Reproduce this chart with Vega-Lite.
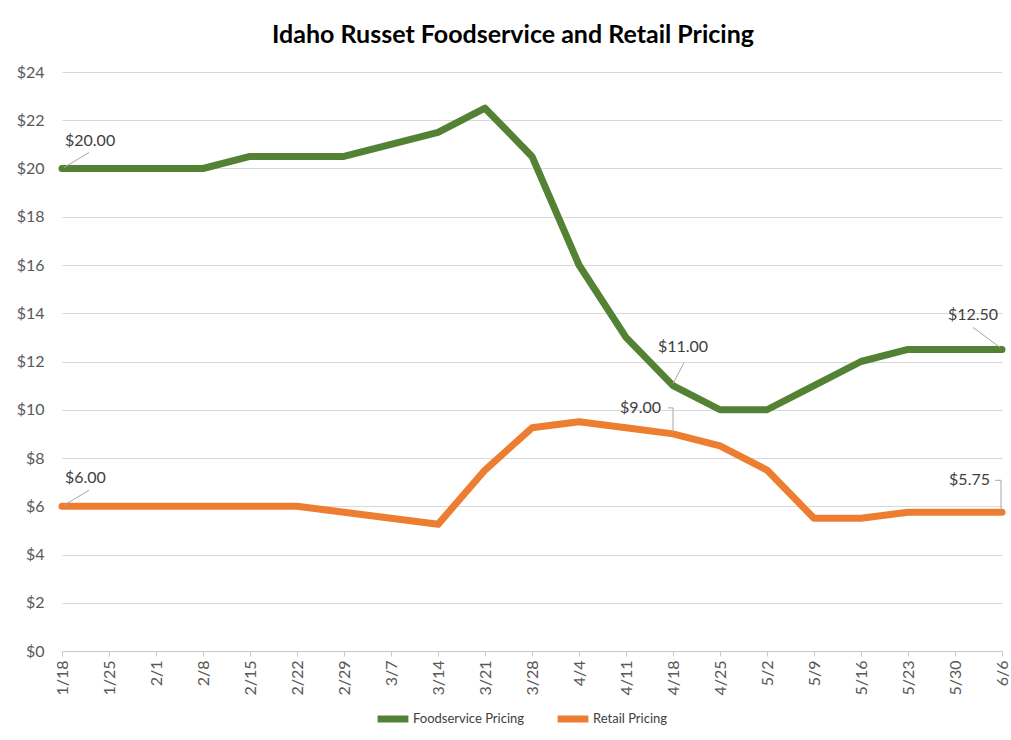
{
  "$schema": "https://vega.github.io/schema/vega-lite/v6.json",
  "width": 940,
  "height": 579,
  "autosize": {"type": "none"},
  "padding": {"left": 62, "top": 72, "right": 9, "bottom": 89},
  "background": "white",
  "title": {
    "text": "Idaho Russet Foodservice and Retail Pricing",
    "fontSize": 25,
    "fontWeight": "bold",
    "font": "Lato",
    "color": "#000000",
    "anchor": "middle",
    "dx": -19,
    "offset": 16
  },
  "datasets": {
    "prices": [
      {"date": "1/18", "series": "Foodservice Pricing", "price": 20},
      {"date": "1/25", "series": "Foodservice Pricing", "price": 20},
      {"date": "2/1", "series": "Foodservice Pricing", "price": 20},
      {"date": "2/8", "series": "Foodservice Pricing", "price": 20},
      {"date": "2/15", "series": "Foodservice Pricing", "price": 20.5},
      {"date": "2/22", "series": "Foodservice Pricing", "price": 20.5},
      {"date": "2/29", "series": "Foodservice Pricing", "price": 20.5},
      {"date": "3/7", "series": "Foodservice Pricing", "price": 21},
      {"date": "3/14", "series": "Foodservice Pricing", "price": 21.5},
      {"date": "3/21", "series": "Foodservice Pricing", "price": 22.5},
      {"date": "3/28", "series": "Foodservice Pricing", "price": 20.5},
      {"date": "4/4", "series": "Foodservice Pricing", "price": 16},
      {"date": "4/11", "series": "Foodservice Pricing", "price": 13},
      {"date": "4/18", "series": "Foodservice Pricing", "price": 11},
      {"date": "4/25", "series": "Foodservice Pricing", "price": 10},
      {"date": "5/2", "series": "Foodservice Pricing", "price": 10},
      {"date": "5/9", "series": "Foodservice Pricing", "price": 11},
      {"date": "5/16", "series": "Foodservice Pricing", "price": 12},
      {"date": "5/23", "series": "Foodservice Pricing", "price": 12.5},
      {"date": "5/30", "series": "Foodservice Pricing", "price": 12.5},
      {"date": "6/6", "series": "Foodservice Pricing", "price": 12.5},
      {"date": "1/18", "series": "Retail Pricing", "price": 6},
      {"date": "1/25", "series": "Retail Pricing", "price": 6},
      {"date": "2/1", "series": "Retail Pricing", "price": 6},
      {"date": "2/8", "series": "Retail Pricing", "price": 6},
      {"date": "2/15", "series": "Retail Pricing", "price": 6},
      {"date": "2/22", "series": "Retail Pricing", "price": 6},
      {"date": "2/29", "series": "Retail Pricing", "price": 5.75},
      {"date": "3/7", "series": "Retail Pricing", "price": 5.5},
      {"date": "3/14", "series": "Retail Pricing", "price": 5.25},
      {"date": "3/21", "series": "Retail Pricing", "price": 7.5},
      {"date": "3/28", "series": "Retail Pricing", "price": 9.25},
      {"date": "4/4", "series": "Retail Pricing", "price": 9.5},
      {"date": "4/11", "series": "Retail Pricing", "price": 9.25},
      {"date": "4/18", "series": "Retail Pricing", "price": 9},
      {"date": "4/25", "series": "Retail Pricing", "price": 8.5},
      {"date": "5/2", "series": "Retail Pricing", "price": 7.5},
      {"date": "5/9", "series": "Retail Pricing", "price": 5.5},
      {"date": "5/16", "series": "Retail Pricing", "price": 5.5},
      {"date": "5/23", "series": "Retail Pricing", "price": 5.75},
      {"date": "5/30", "series": "Retail Pricing", "price": 5.75},
      {"date": "6/6", "series": "Retail Pricing", "price": 5.75}
    ]
  },
  "data": {"name": "prices"},
  "encoding": {
    "x": {
      "field": "date",
      "type": "ordinal",
      "sort": null,
      "scale": {"type": "point", "padding": 0},
      "axis": {
        "title": null,
        "labelAngle": 270,
        "labelFontSize": 16,
        "labelColor": "#595959",
        "labelFont": "Lato",
        "labelPadding": 4,
        "domainColor": "#c8c8c8",
        "tickColor": "#c8c8c8",
        "tickSize": 5,
        "grid": false
      }
    },
    "y": {
      "field": "price",
      "type": "quantitative",
      "scale": {"domain": [0, 24], "nice": false, "zero": true},
      "axis": {
        "title": null,
        "values": [0, 2, 4, 6, 8, 10, 12, 14, 16, 18, 20, 22, 24],
        "format": "$,.0f",
        "labelFontSize": 16,
        "labelColor": "#595959",
        "labelFont": "Lato",
        "labelPadding": 18,
        "domain": false,
        "ticks": false,
        "grid": true,
        "gridColor": "#d9d9d9",
        "gridWidth": 1
      }
    }
  },
  "layer": [
    {
      "mark": {"type": "line", "strokeWidth": 7, "strokeJoin": "round", "strokeCap": "round"},
      "encoding": {
        "color": {
          "field": "series",
          "type": "nominal",
          "scale": {"domain": ["Foodservice Pricing", "Retail Pricing"], "range": ["#548235", "#ED7D31"]},
          "legend": {
            "title": null,
            "orient": "none",
            "legendX": 312,
            "legendY": 628,
            "direction": "horizontal",
            "symbolType": "stroke",
            "symbolStrokeWidth": 7,
            "symbolSize": 950,
            "labelFontSize": 13,
            "labelColor": "#404040",
            "labelFont": "Lato",
            "labelOffset": 1,
            "columnPadding": 18
          }
        }
      }
    },
    {
      "transform": [{"filter": "datum.date == '1/18'"}],
      "mark": {"type": "rule", "color": "#a6a6a6", "strokeWidth": 1, "xOffset": 2, "yOffset": -1, "x2Offset": 27, "y2Offset": -16},
      "encoding": {"x2": {"field": "date"}, "y2": {"field": "price"}}
    },
    {
      "transform": [{"filter": "datum.date == '1/18'"}],
      "mark": {"type": "text", "align": "left", "baseline": "middle", "dx": 3, "dy": -28, "fontSize": 16, "color": "#404040", "font": "Lato"},
      "encoding": {"text": {"field": "price", "type": "quantitative", "format": "$.2f"}}
    },
    {
      "transform": [{"filter": "datum.date == '4/18' && datum.series == 'Foodservice Pricing'"}],
      "mark": {"type": "rule", "color": "#a6a6a6", "strokeWidth": 1, "yOffset": -2, "x2Offset": 11, "y2Offset": -23},
      "encoding": {"x2": {"field": "date"}, "y2": {"field": "price"}}
    },
    {
      "transform": [{"filter": "datum.date == '4/18' && datum.series == 'Foodservice Pricing'"}],
      "mark": {"type": "text", "align": "center", "baseline": "middle", "dx": 10, "dy": -39, "fontSize": 16, "color": "#404040", "font": "Lato"},
      "encoding": {"text": {"field": "price", "type": "quantitative", "format": "$.2f"}}
    },
    {
      "transform": [{"filter": "datum.date == '4/18' && datum.series == 'Retail Pricing'"}],
      "mark": {"type": "rule", "color": "#a6a6a6", "strokeWidth": 1, "yOffset": -2, "y2Offset": -26},
      "encoding": {"y2": {"field": "price"}}
    },
    {
      "transform": [{"filter": "datum.date == '4/18' && datum.series == 'Retail Pricing'"}],
      "mark": {"type": "rule", "color": "#a6a6a6", "strokeWidth": 1, "yOffset": -26, "x2Offset": -5, "y2Offset": -26},
      "encoding": {"x2": {"field": "date"}, "y2": {"field": "price"}}
    },
    {
      "transform": [{"filter": "datum.date == '4/18' && datum.series == 'Retail Pricing'"}],
      "mark": {"type": "text", "align": "right", "baseline": "middle", "dx": -12, "dy": -26, "fontSize": 16, "color": "#404040", "font": "Lato"},
      "encoding": {"text": {"field": "price", "type": "quantitative", "format": "$.2f"}}
    },
    {
      "transform": [{"filter": "datum.date == '6/6' && datum.series == 'Foodservice Pricing'"}],
      "mark": {"type": "rule", "color": "#a6a6a6", "strokeWidth": 1, "xOffset": -2, "yOffset": -2, "x2Offset": -29, "y2Offset": -22},
      "encoding": {"x2": {"field": "date"}, "y2": {"field": "price"}}
    },
    {
      "transform": [{"filter": "datum.date == '6/6' && datum.series == 'Foodservice Pricing'"}],
      "mark": {"type": "text", "align": "center", "baseline": "middle", "dx": -29, "dy": -34, "fontSize": 16, "color": "#404040", "font": "Lato"},
      "encoding": {"text": {"field": "price", "type": "quantitative", "format": "$.2f"}}
    },
    {
      "transform": [{"filter": "datum.date == '6/6' && datum.series == 'Retail Pricing'"}],
      "mark": {"type": "rule", "color": "#a6a6a6", "strokeWidth": 1, "xOffset": -1, "x2Offset": -1, "yOffset": -2, "y2Offset": -32},
      "encoding": {"x2": {"field": "date"}, "y2": {"field": "price"}}
    },
    {
      "transform": [{"filter": "datum.date == '6/6' && datum.series == 'Retail Pricing'"}],
      "mark": {"type": "rule", "color": "#a6a6a6", "strokeWidth": 1, "xOffset": -1, "yOffset": -32, "x2Offset": -7, "y2Offset": -32},
      "encoding": {"x2": {"field": "date"}, "y2": {"field": "price"}}
    },
    {
      "transform": [{"filter": "datum.date == '6/6' && datum.series == 'Retail Pricing'"}],
      "mark": {"type": "text", "align": "right", "baseline": "middle", "dx": -12, "dy": -32, "fontSize": 16, "color": "#404040", "font": "Lato"},
      "encoding": {"text": {"field": "price", "type": "quantitative", "format": "$.2f"}}
    }
  ],
  "config": {"view": {"stroke": null}}
}
